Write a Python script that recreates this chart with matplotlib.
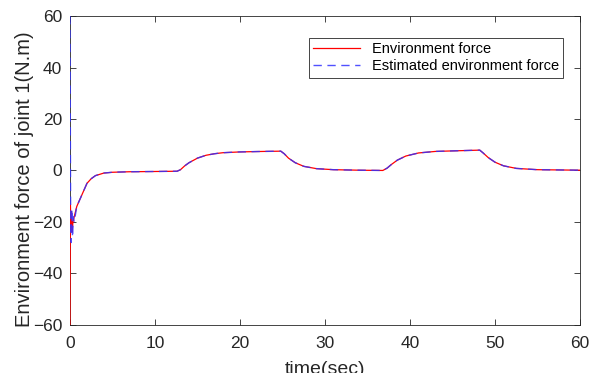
import numpy as np
import matplotlib.pyplot as plt

plt.rcParams['font.family'] = ['Liberation Sans', 'DejaVu Sans']

# common part of both curves, after the start transient
t_tail = [0.8, 1.2, 1.6, 2.0, 2.5, 3.0, 4.0, 5.0, 7.0, 10.0, 12.6,
          13.0, 13.5, 14.0, 15.0, 16.0, 17.0, 18.0, 20.0, 22.0, 24.8,
          25.2, 25.7, 26.5, 27.5, 29.0, 31.0, 34.0, 36.8,
          37.3, 37.8, 38.5, 39.5, 41.0, 43.0, 45.0, 48.2,
          48.6, 49.2, 50.0, 51.0, 52.5, 55.0, 60.0]
f_tail = [-14, -11, -8, -5, -3.2, -2, -1, -0.7, -0.5, -0.4, -0.3,
          0.3, 1.8, 3.0, 4.8, 5.9, 6.5, 6.9, 7.2, 7.35, 7.5,
          6.5, 4.8, 3.0, 1.6, 0.7, 0.3, 0.1, 0.0,
          0.9, 2.3, 4.0, 5.6, 6.8, 7.4, 7.6, 7.9,
          6.8, 5.0, 3.2, 1.8, 0.8, 0.3, 0.1]

# start transient
t_env_head = [0.0, 0.05, 0.12, 0.18, 0.25, 0.35, 0.5]
f_env_head = [-60, -13, -22, -16, -24, -20, -18]
t_est_head = [0.0, 0.08, 0.15, 0.22, 0.3, 0.4, 0.5]
f_est_head = [60, -20, -28, -15, -26, -18, -20]

t_env = t_env_head + t_tail
f_env = f_env_head + f_tail
t_est = t_est_head + t_tail
f_est = f_est_head + f_tail

fig = plt.figure(figsize=(5.98, 3.73), dpi=100)
ax = fig.add_axes([0.117, 0.129, 0.853, 0.828])

ax.plot(t_env, f_env, color='red', lw=0.9, zorder=3, label='Environment force')
ax.plot(t_est, f_est, color='#3333ff', lw=1.0, ls=(0, (6, 4)), alpha=0.85, zorder=3,
        label='Estimated environment force')

ax.set_xlim(0, 60)
ax.set_ylim(-60, 60)
ax.set_xticks(np.arange(0, 61, 10))
ax.set_yticks(np.arange(-60, 61, 20))
ax.tick_params(direction='in', top=True, right=True, labelsize=12.5,
               colors='#262626', length=4, width=0.6)
ax.tick_params(axis='x', pad=8)
ax.tick_params(axis='y', pad=5.5)
for s in ax.spines.values():
    s.set_color('#262626')
    s.set_linewidth(0.6)

# x label sits partly below the figure edge, as in the original
ax.set_xlabel('time(sec)', fontsize=14, color='#262626', labelpad=7)
ax.set_ylabel('Environment force of joint 1(N.m)', fontsize=14.5, color='#262626')
ax.yaxis.set_label_coords(-0.07, 0.472)

leg = ax.legend(loc='upper right', fontsize=10.5, fancybox=False, framealpha=1,
                edgecolor='#262626', borderpad=0.3, labelspacing=0.2,
                handlelength=3.2, borderaxespad=0, bbox_to_anchor=(0.967, 0.929))
leg.get_frame().set_linewidth(0.6)

fig.savefig('out.png', dpi=100)
